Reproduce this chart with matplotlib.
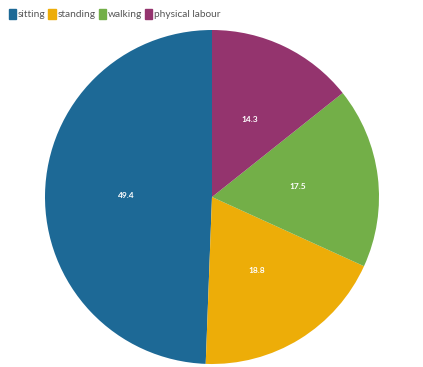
import matplotlib
matplotlib.use("Agg")
import matplotlib.pyplot as plt
from matplotlib.patches import Patch

categories = ["sitting", "standing", "walking", "physical labour"]
values = [49.4, 18.8, 17.5, 14.3]
colors = ["#1d6996", "#edad08", "#73af48", "#94346e"]

plt.rcParams['font.family'] = ['Lato', 'DejaVu Sans']

fig = plt.figure(figsize=(4.23, 3.67), dpi=100)
ax = fig.add_axes([45/423, 3/367, 334/423, 334/367])

wedges, texts, autotexts = ax.pie(
    values, colors=colors, startangle=90, counterclock=True,
    autopct=lambda p: f"{p:.1f}", pctdistance=0.515,
    textprops=dict(color="white", fontsize=6, fontweight="bold"),
    wedgeprops=dict(linewidth=0))
ax.set_xlim(-1, 1)
ax.set_ylim(-1, 1)
ax.set_aspect("equal")

handles = [Patch(facecolor=c, edgecolor=c, label=l) for c, l in zip(colors, categories)]
leg = fig.legend(handles=handles, loc="upper left", bbox_to_anchor=(0.0, 1.0),
                 ncol=4, frameon=False, fontsize=7.3, handlelength=0.7, handleheight=1.2,
                 handletextpad=0.2, columnspacing=0.3, borderaxespad=0.45)
for t in leg.get_texts():
    t.set_color("#555555")

fig.savefig("out.png", dpi=100)
